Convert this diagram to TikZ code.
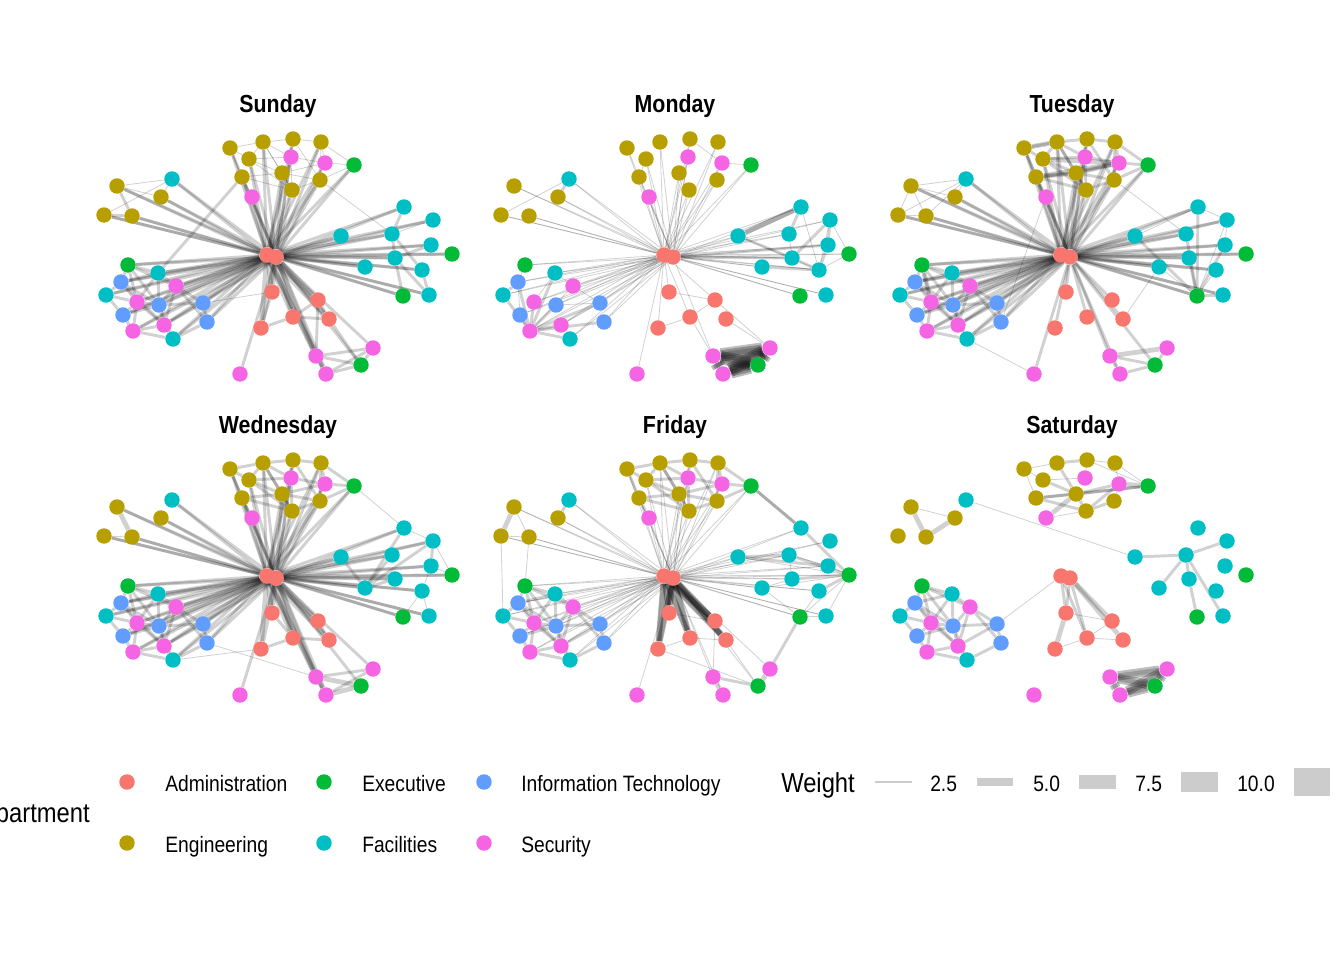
\documentclass[tikz,border=0pt]{standalone}
\usepackage{fontspec}
\setmainfont{Liberation Sans}[FakeStretch=0.865]
\usepackage{xcolor}
\usetikzlibrary{backgrounds}

\definecolor{admin}{HTML}{F8766D}
\definecolor{engin}{HTML}{B79F00}
\definecolor{exec}{HTML}{00BA38}
\definecolor{facil}{HTML}{00BFC4}
\definecolor{infot}{HTML}{619CFF}
\definecolor{secur}{HTML}{F564E3}

% same layout in every panel
\def\stafflist{adm1/267/255/admin, adm2/276/257/admin, adm3/272/292/admin, adm4/318/300/admin, adm5/293/317/admin, adm6/329/319/admin, adm7/261/328/admin,
eng1/230/148/engin, eng2/263/142/engin, eng3/293/139/engin, eng4/321/142/engin, eng5/249/159/engin, eng6/242/177/engin, eng7/282/173/engin, eng8/320/180/engin, eng9/292/190/engin, eng10/117/186/engin, eng11/161/197/engin, eng12/104/215/engin, eng13/132/216/engin,
exe1/354/165/exec, exe2/452/254/exec, exe3/403/296/exec, exe4/128/265/exec, exe5/361/365/exec,
fac1/172/179/facil, fac2/404/207/facil, fac3/433/220/facil, fac4/341/236/facil, fac5/392/234/facil, fac6/431/245/facil, fac7/395/258/facil, fac8/365/267/facil, fac9/422/270/facil, fac10/429/295/facil, fac11/158/273/facil, fac12/106/295/facil, fac13/173/339/facil,
it1/121/282/infot, it2/159/305/infot, it3/203/303/infot, it4/123/315/infot, it5/207/322/infot,
sec1/291/157/secur, sec2/325/163/secur, sec3/252/197/secur, sec4/176/286/secur, sec5/137/302/secur, sec6/164/325/secur, sec7/133/331/secur, sec8/316/356/secur, sec9/373/348/secur, sec10/326/374/secur, sec11/240/374/secur}

\def\hubreach{eng1,eng2,eng3,eng4,eng5,eng6,eng7,eng8,eng9,eng10,eng11,eng12,eng13,sec1,sec2,sec3,exe1,fac1,fac2,fac3,fac4,fac5,fac6,fac7,fac8,fac9,fac10,exe2,exe3,exe4,fac11,fac12,fac13,it1,it2,it3,it4,it5,sec4,sec5,sec6,sec7}

\def\topteam{eng1/eng2, eng2/eng3, eng3/eng4, eng1/eng5, eng1/eng6, eng2/eng5, eng2/eng7, eng2/sec1, eng3/sec1, eng3/eng8, eng4/sec2, eng4/eng8, eng5/eng7, eng5/sec1, eng6/eng7, eng6/eng9, eng6/sec3, eng7/eng9, eng7/sec2, eng7/eng8, eng8/eng9, eng9/sec1, sec1/sec2, sec2/exe1, eng4/exe1, eng8/exe1, eng5/eng9, eng2/eng9}

\def\leftteam{exe4/fac11, exe4/it1, exe4/sec4, exe4/sec5, fac11/it1, fac11/sec4, fac11/sec5, fac11/it2, it1/sec5, it1/it2, it1/fac12, fac12/sec5, fac12/it4, sec5/it2, sec5/it4, sec5/sec7, sec5/sec6, it2/sec4, it2/it3, it2/sec6, it2/it4, it2/fac13, sec4/it3, sec4/sec6, sec4/it5, it3/it5, it3/sec6, sec6/fac13, sec6/sec7, it4/sec7, sec7/fac13, it5/fac13, it1/sec6, exe4/it2}

\def\southteam{sec8/sec9, sec8/exe5, sec8/sec10, sec9/sec10, sec9/exe5, sec10/exe5}

\begin{document}
\begin{tikzpicture}[x=0.75pt,y=-0.75pt]

\tikzset{
    staff/.style = {circle, inner sep=0pt, minimum size=11.6pt},
    tie/.style = {draw=black, draw opacity=0.18},
    daytitle/.style = {font=\fontsize{18.5}{22}\selectfont\bfseries, anchor=base, inner sep=0pt},
    keytext/.style = {font=\fontsize{16.7}{20}\selectfont, anchor=base west, inner sep=0pt},
    legtitle/.style = {font=\fontsize{20.6}{24}\selectfont, inner sep=0pt},
    wkey/.style = {fill=black!20, minimum width=27.4pt, inner sep=0pt}
}

\tikzstyle{weak}=[tie, line width=0.6pt]
\tikzstyle{link}=[tie, line width=2.2pt]
\tikzstyle{strong}=[tie, line width=3.6pt]
\tikzstyle{bundle}=[draw=black, draw opacity=0.26, line width=7pt]

\useasboundingbox (0,0) rectangle (1344,960);

% Sunday
\begin{scope}[name prefix=sun-]
\node[daytitle] (title) at (278,112) {Sunday};
\foreach \n/\x/\y/\col in \stafflist \node[staff, fill=\col] (\n) at (\x,\y) {};
\begin{scope}[on background layer]
\foreach \h in {adm1,adm2} \foreach \t in \hubreach \draw[link] (\h) -- (\t);
\foreach \h in {adm1,adm2} \foreach \t in {adm3,adm4,adm5,adm6,adm7,sec8,sec10} \draw[strong] (\h) -- (\t);
\foreach \t in {sec9,exe5,sec11} \draw[link] (adm2) -- (\t);
\foreach \a/\b in \topteam \draw[weak] (\a) -- (\b);
\foreach \a/\b in \leftteam \draw[link] (\a) -- (\b);
\foreach \a/\b in \southteam \draw[link] (\a) -- (\b);
\foreach \a/\b in {eng6/fac11, eng10/eng13, eng12/eng13, fac2/fac5, fac5/fac7, fac7/exe3, fac5/fac9, fac9/fac10, fac6/fac7, fac7/fac10, adm3/adm7, adm7/adm5, adm5/adm6, adm5/adm4, adm4/adm6, adm6/exe5, adm4/sec8}
  \draw[link] (\a) -- (\b);
\foreach \a/\b in {eng10/eng11, eng10/fac1, eng11/fac1, eng12/fac1, eng8/fac5, fac3/fac5, it3/adm3}
  \draw[weak] (\a) -- (\b);
\end{scope}
\end{scope}

% Monday
\begin{scope}[shift={(397,0)}, name prefix=mon-]
\node[daytitle] (title) at (278,112) {Monday};
\foreach \n/\x/\y/\col in \stafflist \node[staff, fill=\col] (\n) at (\x,\y) {};
\begin{scope}[on background layer]
\foreach \h in {adm1,adm2} \foreach \t in \hubreach \draw[weak] (\h) -- (\t);
\foreach \a/\b in \southteam {\draw[bundle] (\a) -- (\b); \draw[bundle, line width=10pt] (\a) -- (\b); \draw[strong] (\a) -- (\b);}
\draw[strong] (fac4) -- (fac2);
\draw[strong] (fac4) -- (fac2);
\foreach \a/\b in {adm2/fac7, adm2/fac6, fac4/fac7, fac7/fac9, fac3/fac7, fac3/fac6, fac2/fac5, fac8/fac9, fac6/fac9, fac1/eng11, sec7/fac12, sec7/it1, sec7/it4, sec7/sec5, sec7/fac11, sec7/it2, sec7/sec6, sec7/it3, sec7/it5, sec7/fac13, it1/fac12}
  \draw[link] (\a) -- (\b);
\foreach \a/\b in {adm1/adm3, adm1/adm4, adm1/adm5, adm1/adm7, adm2/sec8, adm1/sec11, adm3/adm4, adm5/adm4, adm5/adm7, adm4/sec9, adm6/sec9, adm5/sec8, eng3/sec2, sec2/exe1, eng5/eng6, eng12/fac1, sec7/sec4, sec5/fac11, it1/it4, exe4/it1, fac11/sec4, sec4/it3, it2/it3, sec6/it3, fac5/fac7, fac3/fac9, fac2/fac9, exe2/fac3, exe2/fac9, fac4/fac9}
  \draw[weak] (\a) -- (\b);
\end{scope}
\end{scope}

% Tuesday
\begin{scope}[shift={(794,0)}, name prefix=tue-]
\node[daytitle] (title) at (278,112) {Tuesday};
\foreach \n/\x/\y/\col in \stafflist \node[staff, fill=\col] (\n) at (\x,\y) {};
\begin{scope}[on background layer]
\foreach \h in {adm1,adm2} \foreach \t in \hubreach \draw[link] (\h) -- (\t);
\foreach \t in {adm3,adm4,adm5,adm6,adm7,sec8,sec10,exe5,sec11} \draw[link] (adm2) -- (\t);
\foreach \a/\b in \topteam \draw[link] (\a) -- (\b);
\foreach \a/\b in {eng6/eng7, eng7/sec2, eng6/sec2, eng5/sec2, eng1/eng2, exe4/sec5, sec8/sec9} \draw[strong] (\a) -- (\b);
\foreach \a/\b in \leftteam \draw[link] (\a) -- (\b);
\foreach \a/\b in {exe3/fac4, exe3/fac5, exe3/fac6, exe3/fac7, exe3/fac2, exe3/fac10, sec8/exe5, sec10/exe5, sec9/exe5, sec8/sec10}
  \draw[link] (\a) -- (\b);
\foreach \a/\b in {exe3/fac8, exe3/fac3, exe3/fac9, fac8/adm6, fac2/fac3, fac3/fac6, fac2/fac4, eng10/fac1, eng10/eng11, eng11/fac1, eng12/fac1, eng13/fac1, eng10/eng12, eng12/eng13, eng10/eng13, fac13/sec11, sec3/it5, eng8/fac5}
  \draw[weak] (\a) -- (\b);
\end{scope}
\end{scope}

% Wednesday
\begin{scope}[shift={(0,321)}, name prefix=wed-]
\node[daytitle] (title) at (278,112) {Wednesday};
\foreach \n/\x/\y/\col in \stafflist \node[staff, fill=\col] (\n) at (\x,\y) {};
\begin{scope}[on background layer]
\foreach \h in {adm1,adm2} \foreach \t in \hubreach \draw[link] (\h) -- (\t);
\foreach \h in {adm1,adm2} \foreach \t in {adm3,adm4,adm5,adm6,adm7,sec8,sec10} \draw[strong] (\h) -- (\t);
\foreach \t in {sec9,exe5,sec11} \draw[link] (adm2) -- (\t);
\foreach \a/\b in \topteam \draw[link] (\a) -- (\b);
\foreach \a/\b in \leftteam \draw[link] (\a) -- (\b);
\foreach \a/\b in {fac4/fac8, fac8/fac5, fac8/fac7, fac8/fac2, fac8/fac3, fac3/fac6, adm3/adm5, adm5/adm7, adm5/adm6, adm4/adm6, sec8/sec9, sec10/sec9, sec8/sec10}
  \draw[link] (\a) -- (\b);
\foreach \a/\b in {eng10/eng13, sec8/exe5, sec10/exe5} \draw[strong] (\a) -- (\b);
\foreach \a/\b in {eng12/eng13, fac2/fac3, fac6/fac9, exe2/fac3, exe2/fac6, fac10/fac9, exe3/fac9, exe1/fac2, it5/sec8, fac13/adm7}
  \draw[weak] (\a) -- (\b);
\end{scope}
\end{scope}

% Friday
\begin{scope}[shift={(397,321)}, name prefix=fri-]
\node[daytitle] (title) at (278,112) {Friday};
\foreach \n/\x/\y/\col in \stafflist \node[staff, fill=\col] (\n) at (\x,\y) {};
\begin{scope}[on background layer]
\foreach \h in {adm1,adm2} \foreach \t in \hubreach \draw[weak] (\h) -- (\t);
\foreach \h in {adm1,adm2} \foreach \t in {adm3,adm4,adm5,adm6,adm7} {\draw[bundle, line width=4.5pt] (\h) -- (\t); \draw[strong] (\h) -- (\t);}
\foreach \t in {sec8,sec9,sec10,sec11,exe5} \draw[weak] (adm2) -- (\t);
\foreach \a/\b in \topteam \draw[link] (\a) -- (\b);
\foreach \a/\b in \leftteam \draw[link] (\a) -- (\b);
\foreach \a/\b in {exe1/fac2, exe1/fac2, fac2/exe2, exe2/fac5, exe2/fac7, exe2/fac9, fac4/fac5, fac4/fac6, exe3/sec9, exe5/sec8, eng11/fac1}
  \draw[link] (\a) -- (\b);
\foreach \a/\b in {sec9/exe5, sec8/sec10, eng10/eng12} \draw[strong] (\a) -- (\b);
\foreach \a/\b in {exe2/fac4, exe2/fac6, exe2/fac10, exe2/exe3, exe2/fac8, fac5/fac6, fac5/fac7, fac7/fac8, fac8/exe3, fac9/exe3, fac10/exe3, adm6/exe5, adm7/exe5, adm4/sec8, eng12/eng13, eng10/eng13, eng13/exe4, eng12/fac12, adm3/adm4, adm5/adm6, adm7/adm5}
  \draw[weak] (\a) -- (\b);
\end{scope}
\end{scope}

% Saturday
\begin{scope}[shift={(794,321)}, name prefix=sat-]
\node[daytitle] (title) at (278,112) {Saturday};
\foreach \n/\x/\y/\col in \stafflist \node[staff, fill=\col] (\n) at (\x,\y) {};
\begin{scope}[on background layer]
\foreach \a/\b in \southteam {\draw[bundle] (\a) -- (\b); \draw[strong] (\a) -- (\b);}
\foreach \a/\b in \leftteam \draw[link] (\a) -- (\b);
\foreach \a/\b in {eng2/eng3, eng5/eng7, eng6/eng7, eng6/eng9, eng7/sec2, eng7/exe1, eng6/exe1, eng9/eng7, eng9/sec2, eng8/eng9, eng2/eng7, fac4/fac5, fac5/fac3, fac5/fac7, fac5/fac8, fac7/exe3, fac5/fac10, adm1/adm3, adm2/adm3, adm1/adm5, adm2/adm5}
  \draw[link] (\a) -- (\b);
\foreach \a/\b in {sec2/exe1, sec3/eng7, eng10/eng13, eng13/eng11, adm2/adm4, adm2/adm6, adm3/adm7} \draw[strong] (\a) -- (\b);
\foreach \a/\b in {eng1/eng2, eng1/eng5, eng1/eng6, eng3/eng4, eng3/sec1, eng4/exe1, eng5/sec1, eng8/sec2, eng9/sec3, eng10/eng11, fac1/fac4, adm7/adm5, adm5/adm4, adm3/adm4, adm5/adm6, adm1/it3, eng3/exe1, eng4/sec2}
  \draw[weak] (\a) -- (\b);
\end{scope}
\end{scope}

% department legend
\node[legtitle, anchor=base east] (dept) at (90,822) {Department};
\node[staff, fill=admin] (key-adm) at (127,782) {};
\node[keytext] (lab-adm) at (165,791) {Administration};
\node[staff, fill=exec] (key-exe) at (324,782) {};
\node[keytext] (lab-exe) at (362,791) {Executive};
\node[staff, fill=infot] (key-it) at (484,782) {};
\node[keytext] (lab-it) at (521,791) {Information Technology};
\node[staff, fill=engin] (key-eng) at (127,843) {};
\node[keytext] (lab-eng) at (165,852) {Engineering};
\node[staff, fill=facil] (key-fac) at (324,843) {};
\node[keytext] (lab-fac) at (362,852) {Facilities};
\node[staff, fill=secur] (key-sec) at (484,843) {};
\node[keytext] (lab-sec) at (521,852) {Security};

% weight legend
\node[legtitle, anchor=base west] (weight) at (781,792.5) {Weight};
\node[wkey, minimum height=1.1pt] (w-1) at (893.5,782) {};
\node[keytext] (l-1) at (930,791) {2.5};
\node[wkey, minimum height=6pt] (w-2) at (995,782) {};
\node[keytext] (l-2) at (1033,791) {5.0};
\node[wkey, minimum height=10.5pt] (w-3) at (1097.5,782) {};
\node[keytext] (l-3) at (1135,791) {7.5};
\node[wkey, minimum height=15pt] (w-4) at (1199.5,782) {};
\node[keytext] (l-4) at (1237,791) {10.0};
\node[wkey, minimum height=20.3pt] (w-5) at (1312,782) {};

\end{tikzpicture}
\end{document}
